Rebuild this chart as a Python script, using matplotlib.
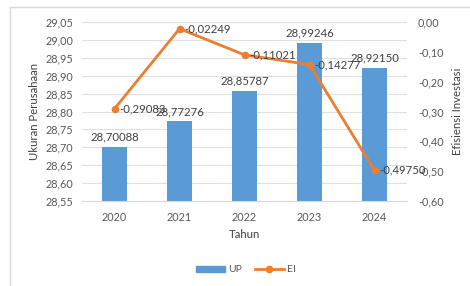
import matplotlib.pyplot as plt
from matplotlib.patches import Rectangle
from matplotlib.lines import Line2D

years = ['2020', '2021', '2022', '2023', '2024']
up = [28.70088, 28.77276, 28.85787, 28.99246, 28.92150]
ei = [-0.29083, -0.02249, -0.11021, -0.14277, -0.49750]

bar_color = '#5B9BD5'
line_color = '#ED7D31'
text_color = '#595959'

plt.rcParams['font.family'] = ['Lato', 'DejaVu Sans']
plt.rcParams['font.size'] = 7.5


def comma(v, nd):
    return f'{v:.{nd}f}'.replace('.', ',')


fig = plt.figure(figsize=(4.7, 2.86), dpi=100)
fig.patches.append(Rectangle((10 / 470, -0.1), 1.2, 1 - 7 / 286 + 0.1,
                             transform=fig.transFigure, fill=False,
                             edgecolor='#D9D9D9', linewidth=1))
ax = fig.add_axes([82 / 470, 1 - 201 / 286, 325 / 470, 179 / 286])
ax2 = ax.twinx()

x = range(len(years))
ax.bar(x, up, width=0.385, color=bar_color, zorder=2)
ax.set_ylim(28.55, 29.05)
ax.set_xlim(-0.5, 4.5)
ticks = [28.55 + 0.05 * i for i in range(11)]
ax.set_yticks(ticks)
ax.set_yticklabels([comma(t, 2) for t in ticks])
ax.grid(axis='y', color='#E0E0E0', linewidth=0.8, zorder=0)
ax.set_axisbelow(True)
for v, i in zip(up, x):
    ax.text(i, v + 0.012, comma(v, 5), ha='center', va='bottom',
            color='#404040', fontsize=8.2)

ax2.plot(list(x), ei, color=line_color, linewidth=2, marker='o', markersize=4.5, zorder=3)
ax2.set_ylim(-0.6, 0.0)
rt = [-0.6 + 0.1 * i for i in range(7)]
ax2.set_yticks(rt)
ax2.set_yticklabels([comma(t + 0.0, 2) for t in rt])
for v, i in zip(ei, x):
    ax2.text(i + 0.07, v, comma(v, 5), ha='left', va='center',
             color='#404040', fontsize=8.2)

for a in (ax, ax2):
    for s in a.spines.values():
        s.set_visible(False)
    a.tick_params(length=0, colors=text_color, labelsize=7.8)
ax.spines['bottom'].set_visible(True)
ax.spines['bottom'].set_color('#D9D9D9')
ax.set_xticks(list(x))
ax.set_xticklabels(years)
ax.tick_params(axis='x', pad=8)
ax.tick_params(axis='y', pad=6)
ax2.tick_params(axis='y', pad=8)

ax.set_xlabel('Tahun', color='#404040', fontsize=8.2, labelpad=4)
ax.set_ylabel('Ukuran Perusahaan', color='#404040', fontsize=8.2, labelpad=4)
ax2.set_ylabel('Efisiensi Investasi', color='#404040', fontsize=8.2, labelpad=6)

handles = [Rectangle((0, 0), 1, 1, color=bar_color),
           Line2D([], [], color=line_color, linewidth=2, marker='o', markersize=4.5)]
fig.legend(handles, ['UP', 'EI'], loc='center', ncol=2, frameon=False,
           bbox_to_anchor=(246 / 470, 1 - 270 / 286), handlelength=2.8,
           handleheight=0.5, columnspacing=1.2, handletextpad=0.3,
           labelcolor=text_color)

fig.savefig('out.png', dpi=100)
